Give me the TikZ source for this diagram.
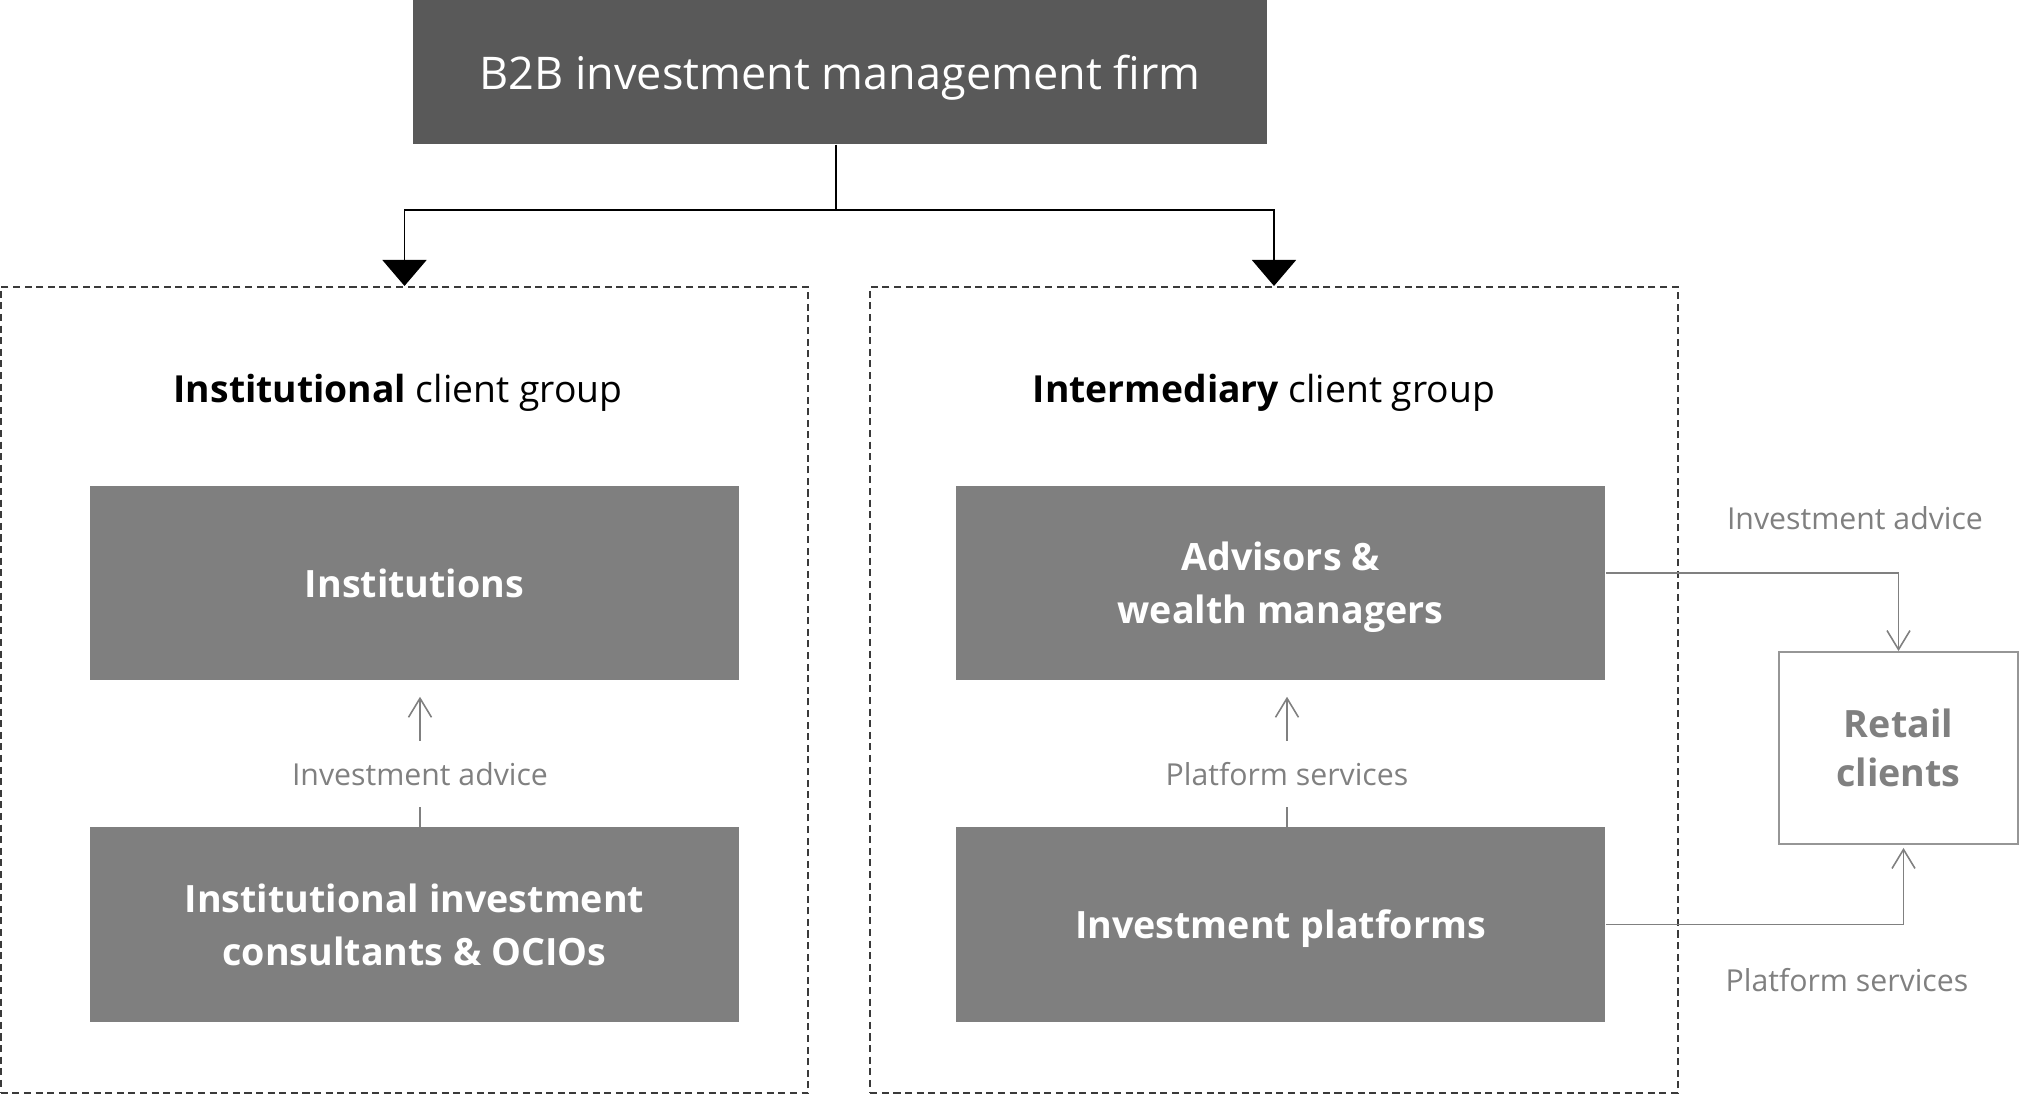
\documentclass[tikz,border=0pt]{standalone}
\usepackage{fontspec}
\setmainfont{Open Sans}
\usetikzlibrary{arrows.meta}
\definecolor{firmgray}{HTML}{595959}
\definecolor{boxgray}{HTML}{7F7F7F}
\definecolor{labgray}{HTML}{808080}
\definecolor{retailborder}{HTML}{969696}
\definecolor{dashgray}{HTML}{3A3A3A}
\tikzset{
  topbox/.style={fill=firmgray, text=white, draw=none, minimum width=8.54cm, minimum height=1.44cm, inner sep=0pt,
    text depth=-1.5pt, font=\fontsize{12.8pt}{15pt}\selectfont},
  group/.style={draw=dashgray, dash pattern=on 2pt off 1.3pt, line width=0.45pt, minimum width=8.07cm, minimum height=8.06cm, inner sep=0pt},
  grouptitle/.style={text=black, inner sep=0pt, text depth=0.6pt, font=\fontsize{10.6pt}{13pt}\selectfont},
  graybox/.style={fill=boxgray, text=white, draw=none, minimum width=6.49cm, minimum height=1.94cm, inner sep=0pt, align=center,
    text depth=0pt, font=\fontsize{10.7pt}{15pt}\selectfont\bfseries},
  retailbox/.style={fill=white, draw=retailborder, line width=0.5pt, text=labgray, minimum width=2.39cm, minimum height=1.92cm, inner sep=0pt, align=center,
    font=\fontsize{10.7pt}{14pt}\selectfont\bfseries},
  lbl/.style={text=labgray, inner sep=0pt, minimum height=0.65cm, font=\fontsize{8.6pt}{10pt}\selectfont},
  conn/.style={draw=black, line width=0.5pt},
  bigtip/.style={-{Triangle[length=0.26cm, width=0.44cm]}},
  garrow/.style={draw=labgray, line width=0.45pt},
  gtip/.style={-{Straight Barb[length=0.19cm, width=0.23cm, line width=0.45pt]}}
}
\begin{document}
\begin{tikzpicture}[x=0.01cm, y=-0.01cm]
\useasboundingbox (0,0) rectangle (2020,1094);
% top firm
\node[topbox] (firm) at (840,72) {B2B investment management firm};
% groups
\node[group] (instgrp) at (404.5,690) {};
\node[group] (intgrp) at (1274,690) {};
\node[grouptitle] (insttitle) at (398,389) {\textbf{Institutional} client group};
\node[grouptitle] (inttitle) at (1264,389) {\textbf{Intermediary} client group};
% connectors from firm
\coordinate (split) at (836,210);
\draw[conn] (firm.south -| split) -- (split);
\draw[conn, bigtip] (split) -| (instgrp.north);
\draw[conn, bigtip] (split) -| (intgrp.north);
% inner boxes
\node[graybox] (inst) at (414.5,583) {Institutions};
\node[graybox] (cons) at (414.5,924.5) {Institutional investment\\consultants \& OCIOs};
\node[graybox] (adv) at (1280.5,583) {Advisors \&\\wealth managers};
\node[graybox] (plat) at (1280.5,924.5) {Investment platforms};
\node[retailbox] (retail) at (1898.5,748) {Retail\\clients};
% labels
\node[lbl] (lab1) at (420,774) {Investment advice};
\node[lbl] (lab2) at (1287,774) {Platform services};
\node[lbl] (lab3) at (1855,518) {Investment advice};
\node[lbl] (lab4) at (1847,980) {Platform services};
% vertical arrows
\draw[garrow] (cons.north -| lab1) -- (lab1.south);
\draw[garrow, gtip, shorten >=0.16cm] (lab1.north) -- (lab1 |- inst.south);
\draw[garrow] (plat.north -| lab2) -- (lab2.south);
\draw[garrow, gtip, shorten >=0.16cm] (lab2.north) -- (lab2 |- adv.south);
% to retail
\draw[garrow, gtip] ([yshift=0.1cm]adv.east) -| (retail.north);
\draw[garrow, gtip, shorten >=0.03cm] (plat.east) -| ([xshift=0.05cm]retail.south);
\end{tikzpicture}
\end{document}
